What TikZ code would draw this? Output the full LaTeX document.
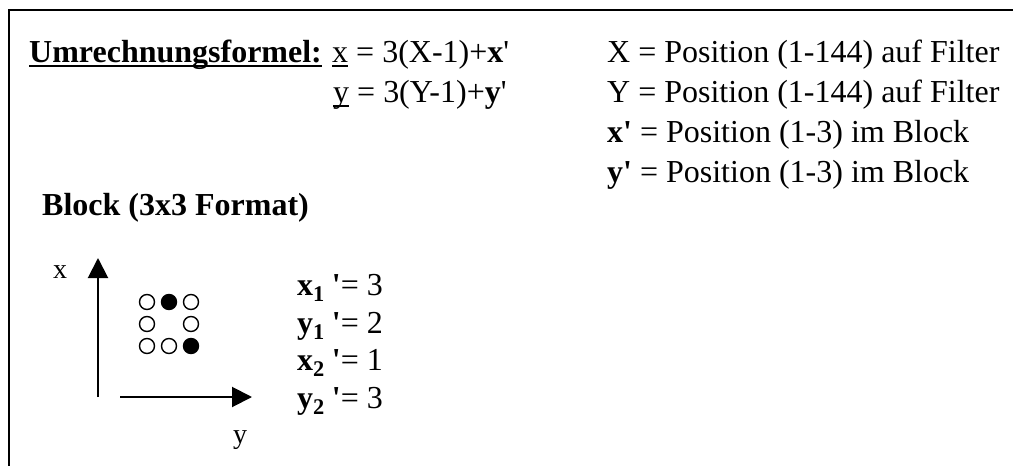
\documentclass[tikz,border=0pt]{standalone}
\usepackage{fontspec}
\setmainfont{Liberation Serif}
\usetikzlibrary{arrows.meta}
\newcommand{\myuline}[1]{\setbox0\hbox{#1}\rlap{\rule[-5pt]{\wd0}{2.2pt}}\box0\relax}
\begin{document}
\begin{tikzpicture}[x=1pt,y=-1pt,
  txt/.style={inner sep=0pt, anchor=base west, font=\fontsize{32}{40}\selectfont},
  lbl/.style={inner sep=0pt, anchor=base west, font=\fontsize{32}{38}\selectfont},
  axlbl/.style={inner sep=0pt, anchor=base west, font=\fontsize{28}{32}\selectfont},
  axis/.style={line width=2pt, -{Triangle[length=20pt,width=20pt]}},
  frame/.style={line width=2pt},
  dot/.style={circle, draw, line width=1.4pt, minimum size=15pt, inner sep=0pt},
  full/.style={dot, fill=black}]
\useasboundingbox (0,0) rectangle (1013,466);
% frame
\coordinate (fb) at (9,467);
\coordinate (fc) at (9,10);
\coordinate (fr) at (1014,10);
\draw[frame] (fb) -- (fc) -- (fr);
% formula
\node[txt] (title) at (29,62) {\myuline{\textbf{Umrechnungsformel:}}};
\node[txt] (fx) at (332,62) {\myuline{x} = 3(X-1)+\textbf{x}\textquotesingle};
\node[txt] (fy) at (333,102) {\myuline{y} = 3(Y-1)+\textbf{y}\textquotesingle};
% definitions
\node[txt] (dX) at (607,62) {X = Position (1-144) auf Filter};
\node[txt] (dY) at (607,102) {Y = Position (1-144) auf Filter};
\node[txt] (dx) at (607,142) {\textbf{x\textquotesingle} = Position (1-3) im Block};
\node[txt] (dy) at (607,182) {\textbf{y\textquotesingle} = Position (1-3) im Block};
% block
\node[txt] (block) at (42,215) {\textbf{Block (3x3 Format)}};
% axes
\coordinate (vo) at (98,397);
\coordinate (vt) at (98,258);
\coordinate (ho) at (120,397);
\coordinate (ht) at (252,397);
\draw[axis] (vo) -- (vt);
\draw[axis] (ho) -- (ht);
\node[axlbl] (lx) at (53,278) {x};
\node[axlbl] (ly) at (233,443) {y};
% dots
\node[dot]  (c11) at (147,302) {};
\node[full] (c12) at (169,302) {};
\node[dot]  (c13) at (191,302) {};
\node[dot]  (c21) at (147,324) {};
\node[dot]  (c23) at (191,324) {};
\node[dot]  (c31) at (147,346) {};
\node[dot]  (c32) at (169,346) {};
\node[full] (c33) at (191,346) {};
% values
\node[lbl] (v1) at (297,295) {\textbf{x\textsubscript{1}}\hspace{7pt}\textbf{\textquotesingle}= 3};
\node[lbl] (v2) at (297,333) {\textbf{y\textsubscript{1}}\hspace{7pt}\textbf{\textquotesingle}= 2};
\node[lbl] (v3) at (297,370) {\textbf{x\textsubscript{2}}\hspace{7pt}\textbf{\textquotesingle}= 1};
\node[lbl] (v4) at (297,408) {\textbf{y\textsubscript{2}}\hspace{7pt}\textbf{\textquotesingle}= 3};
\end{tikzpicture}
\end{document}
